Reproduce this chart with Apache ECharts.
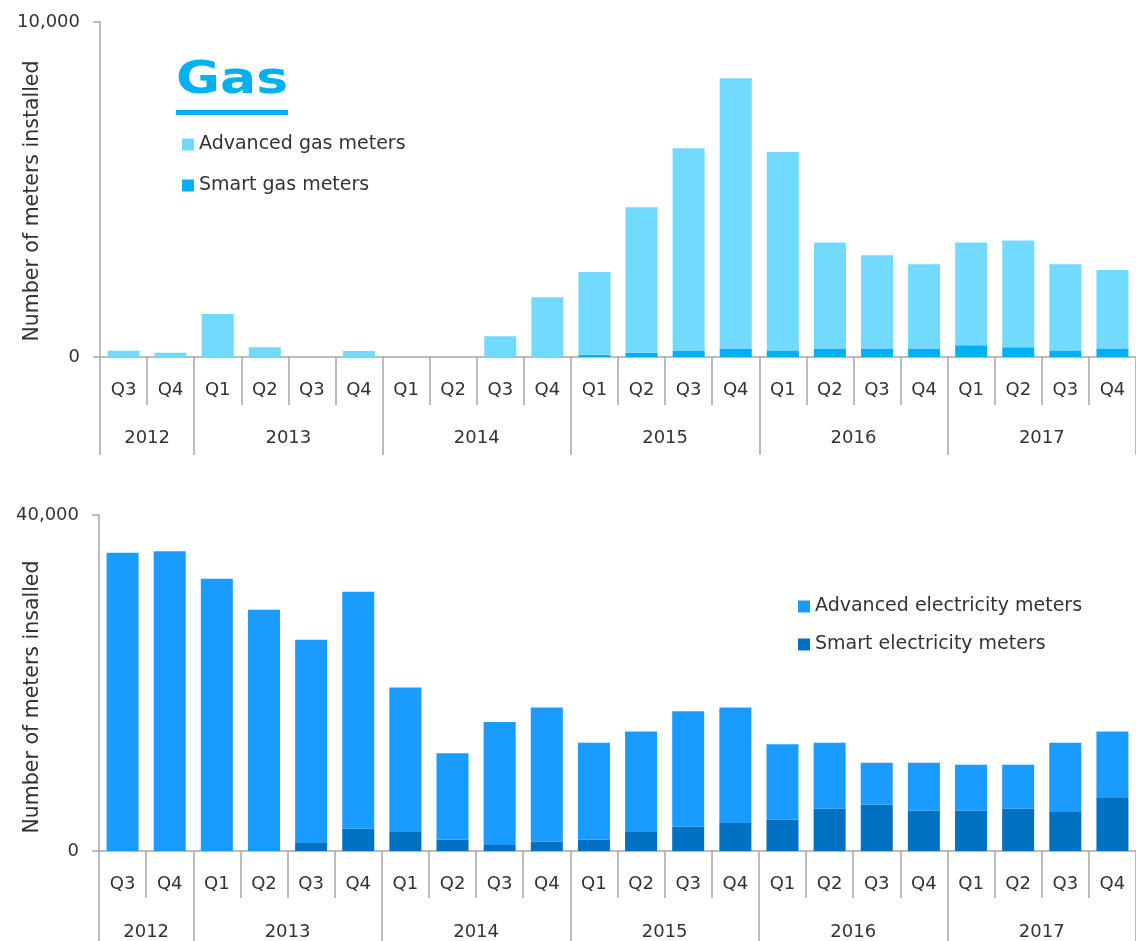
<!DOCTYPE html>
<html><head><meta charset="utf-8">
<script src="https://cdn.jsdelivr.net/npm/echarts@6/dist/echarts.min.js"></script>
<style>html,body{margin:0;padding:0;background:#fff}#c{width:1136px;height:941px}</style>
</head><body><div id="c"></div>
<script>
// ---- data ----
const quarters = ['Q3','Q4','Q1','Q2','Q3','Q4','Q1','Q2','Q3','Q4','Q1','Q2','Q3','Q4','Q1','Q2','Q3','Q4','Q1','Q2','Q3','Q4'];
const years = ['2012','2013','2014','2015','2016','2017'];
const quartersPerYear = [2,4,4,4,4,4];
const gasAdvanced = [190,130,1280,290,0,180,0,0,620,1780,2470,4340,6050,8080,5940,3180,2795,2525,3070,3190,2585,2360];
const gasSmart    = [0,0,0,0,0,0,0,0,0,0,70,130,180,240,180,240,240,240,350,290,180,240];
const elecAdvanced = [35500,35680,32400,28720,24210,28210,17220,10290,14640,15950,11550,11990,13770,13770,8950,7830,5020,5700,5460,5220,8260,7830];
const elecSmart    = [0,0,0,0,950,2650,2250,1340,710,1140,1340,2250,2880,3320,3750,5060,5500,4820,4820,5060,4630,6410];
const gasAxisMax = 10000;
const elecAxisMax = 40000;
const gasLabels = ['Advanced gas meters','Smart gas meters'];
const elecLabels = ['Advanced electricity meters','Smart electricity meters'];

// ---- derived ----
const bounds = [0];
quartersPerYear.forEach(n => bounds.push(bounds[bounds.length-1] + n));
const centers = quartersPerYear.map((n,i) => bounds[i] + n/2);

const FONT = 'DejaVu Sans';
const TXT = '#333333';
const AX = '#a6a6a6';

function fmt(v){ return v.toLocaleString('en-US'); }

function yAxis(grid, max){
  return {
    type:'value', gridIndex:grid, min:0, max:max, interval:max,
    axisLine:{show:true, lineStyle:{color:AX, width:1.5}},
    axisTick:{show:true, length:7, lineStyle:{color:AX, width:1.5}},
    splitLine:{show:false},
    axisLabel:{margin:20, formatter:fmt, fontFamily:FONT, fontSize:18, color:TXT}
  };
}
function qAxis(grid, tickLen){
  return {
    type:'category', gridIndex:grid, data:quarters, position:'bottom',
    axisLine:{show:true, lineStyle:{color:AX, width:1.5}},
    axisTick:{show:true, interval:0, length:tickLen, lineStyle:{color:AX, width:1.5}},
    axisLabel:{interval:0, margin:24, fontFamily:FONT, fontSize:18, color:TXT}
  };
}
function yrAxis(grid, tickLen){
  return {
    type:'value', gridIndex:grid, min:0, max:quarters.length, position:'bottom',
    axisLine:{show:false},
    splitLine:{show:false},
    axisTick:{show:true, customValues:bounds, length:tickLen, lineStyle:{color:AX, width:1.5}},
    axisLabel:{customValues:centers, margin:72, fontFamily:FONT, fontSize:18, color:TXT,
      formatter: v => years[centers.indexOf(v)]}
  };
}

const option = {
  animation:false,
  backgroundColor:'#ffffff',
  grid:[
    {left:100, top:22, width:1048, height:335},
    {left:99, top:515, width:1048, height:337}
  ],
  xAxis:[qAxis(0,48), yrAxis(0,98), qAxis(1,47), yrAxis(1,98)],
  yAxis:[yAxis(0,gasAxisMax), yAxis(1,elecAxisMax)],
  legend:[
    {data:gasLabels, orient:'vertical', left:177, top:130, itemWidth:12, itemHeight:12, itemGap:22,
     icon:'rect', selectedMode:false, textStyle:{fontFamily:FONT, fontSize:19, color:TXT}},
    {data:elecLabels, orient:'vertical', left:793, top:592, itemWidth:12, itemHeight:12, itemGap:19,
     icon:'rect', selectedMode:false, textStyle:{fontFamily:FONT, fontSize:19, color:TXT}}
  ],
  series:[
    {name:gasLabels[1], type:'bar', stack:'gas', xAxisIndex:0, yAxisIndex:0, data:gasSmart, barWidth:32, itemStyle:{color:'#00b0f0'}},
    {name:gasLabels[0], type:'bar', stack:'gas', xAxisIndex:0, yAxisIndex:0, data:gasAdvanced, barWidth:32, itemStyle:{color:'#72d9ff'}},
    {name:elecLabels[1], type:'bar', stack:'elec', xAxisIndex:2, yAxisIndex:1, data:elecSmart, barWidth:32, itemStyle:{color:'#0070c0'}},
    {name:elecLabels[0], type:'bar', stack:'elec', xAxisIndex:2, yAxisIndex:1, data:elecAdvanced, barWidth:32, itemStyle:{color:'#1a9bff'}}
  ],
  graphic:[
    {type:'text', x:176, y:60, scaleX:1.22, style:{text:'Gas', font:'bold 44px "DejaVu Sans"', fill:'#00b0f0', textAlign:'left', textVerticalAlign:'top'}},
    {type:'rect', shape:{x:176, y:110, width:112, height:5}, style:{fill:'#00b0f0'}},
    {type:'text', x:33, y:201, rotation:Math.PI/2, style:{text:'Number of meters installed', font:'20.5px "DejaVu Sans"', fill:TXT, textAlign:'center', textVerticalAlign:'middle'}},
    {type:'text', x:33, y:697, rotation:Math.PI/2, style:{text:'Number of meters insalled', font:'20.5px "DejaVu Sans"', fill:TXT, textAlign:'center', textVerticalAlign:'middle'}}
  ]
};
const chart = echarts.init(document.getElementById('c'), null, {renderer:'canvas'});
chart.setOption(option);
</script></body></html>
